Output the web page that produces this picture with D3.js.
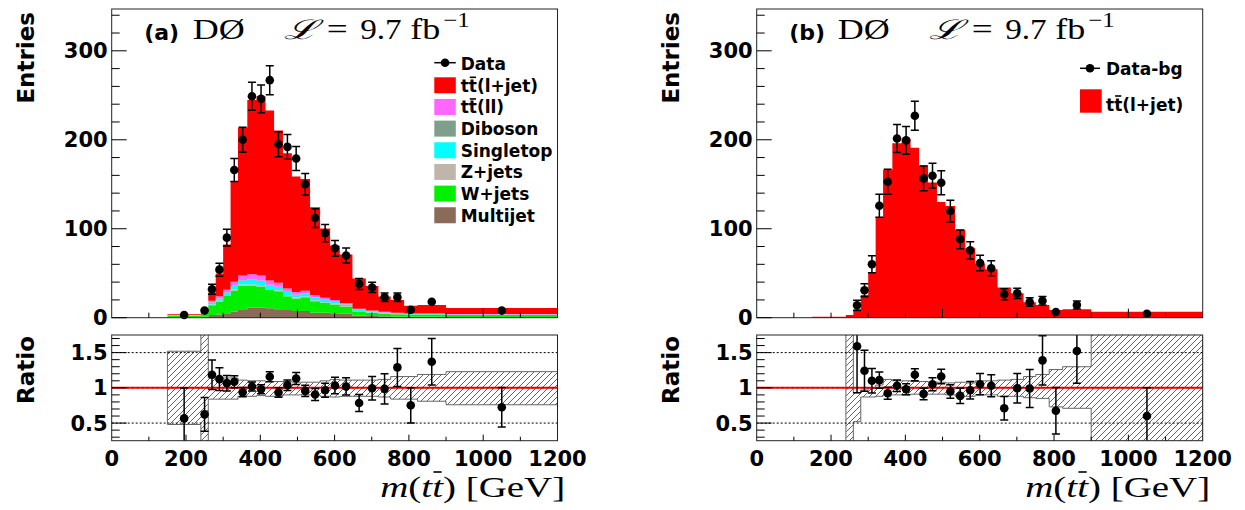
<!DOCTYPE html>
<html><head><meta charset="utf-8">
<script src="https://cdn.jsdelivr.net/npm/d3@7"></script>
<style>body{margin:0;background:#fff} svg{display:block}</style>
</head><body>
<svg id="c" width="1245" height="510"></svg>
<script>
// ---------------- DATA ----------------
const binEdges = [150,240,260,280,300,320,340,365,390,414,437,461,485,508,534,561,588,614,648,684,718,751,787,823,900,1200];
const dataCounts = [3,8,32,54,90,166,200,249,246,267,195,192,179,150,112,95,78,70,38,34,23,23,9,18,8];
const dataErr    = [0,0,5.7,7.3,9.5,12.9,14.1,15.8,15.7,16.3,14,13.9,13.4,12.2,10.6,9.7,8.8,8.4,6.2,5.8,4.8,4.8,0,0,0];
const multijet   = [0.5,1.0,3.0,3.7,5.0,6.7,9.4,11.2,11.2,10.5,8.6,8.6,7.5,7.5,5.6,5.6,4.9,4.5,2.5,2.0,1.5,1.2,1.0,1.0,0.8];
const wjets      = [2.0,4.5,11.0,14.5,19.5,24.0,26.5,25.0,24.0,20.5,21.0,15.5,14.0,15.5,13.0,11.0,10.0,8.0,4.5,3.5,3.0,2.8,2.5,2.5,2.2];
const zjets      = [0.2,0.4,0.7,0.9,1.1,1.3,1.5,1.5,1.5,1.4,1.3,1.2,1.1,1.0,0.9,0.8,0.7,0.6,0.5,0.4,0.3,0.3,0.2,0.2,0.2];
const singletop  = [0.2,0.8,2.0,2.2,2.5,3.5,4.5,5.0,4.5,4.0,3.5,3.5,3.0,3.0,2.8,2.5,2.0,1.7,1.2,1.0,0.8,0.6,0.5,0.5,0.4];
const diboson    = [0.1,0.2,0.3,0.4,0.4,0.5,0.6,0.6,0.6,0.5,0.5,0.5,0.4,0.4,0.4,0.3,0.3,0.3,0.2,0.2,0.2,0.1,0.1,0.1,0.1];
const ttll       = [0.2,0.6,2.0,2.5,2.8,4.5,5.0,5.5,5.5,5.0,4.5,3.5,2.8,3.0,2.5,2.2,1.9,1.5,1.2,1.0,0.8,0.6,0.5,0.5,0.4];
const ttlj       = [1.0,3.0,9.4,25.5,51,113,166,196,201.5,191,171,152,130,125.5,99,78,61,54.4,34,27.4,17.3,14.3,8.6,9.4,6.8];

const dataBg     = [null,null,13.9,30.8,60,125.8,152.8,201.5,199.3,227,156.6,159.6,151.7,119.9,88.1,75.7,61.5,55.5,26.3,27.3,17.6,19.1,6.4,14.3,4.5];
const dataBgErr  = [null,null,5.7,7.3,9.5,12.9,14.1,15.8,15.7,16.3,14,13.9,13.4,12.2,10.6,9.7,8.8,8.4,6.2,5.8,4.8,4.8,0,4.5,0];

const ratioA     = [0.567,0.624,1.186,1.124,1.067,1.086,0.938,1.019,0.98,1.157,0.933,1.038,1.133,0.957,0.905,0.967,1.033,1.02,0.786,0.995,0.986,1.29,0.752,1.37,0.724];
const ratioErrA  = [0.43,0.24,0.21,0.16,0.11,0.085,0.066,0.065,0.063,0.07,0.067,0.075,0.085,0.08,0.086,0.1,0.117,0.122,0.12,0.167,0.214,0.27,0.25,0.33,0.28];
const bandLowA   = [0.48,0.0,0.84,0.84,0.84,0.84,0.88,0.88,0.89,0.88,0.88,0.9,0.9,0.9,0.9,0.88,0.87,0.88,0.88,0.88,0.87,0.84,0.84,0.81,0.76];
const bandHighA  = [1.52,2.0,1.14,1.14,1.14,1.14,1.11,1.1,1.1,1.09,1.09,1.09,1.08,1.08,1.08,1.1,1.12,1.11,1.11,1.11,1.12,1.16,1.16,1.19,1.23];

const ratioB     = [null,null,1.59,1.243,1.1,1.11,0.924,1.029,0.98,1.186,0.914,1.052,1.162,0.948,0.886,0.967,1.052,1.029,0.71,0.995,0.99,1.39,0.676,1.524,0.6];
const ratioErrB  = [null,null,0.66,0.29,0.174,0.114,0.085,0.081,0.077,0.085,0.082,0.092,0.103,0.096,0.107,0.124,0.15,0.156,0.167,0.21,0.27,0.35,0.33,0.46,0.4];
const bandLowB   = [null,0.0,0.52,0.87,0.87,0.88,0.9,0.9,0.9,0.91,0.91,0.91,0.91,0.9,0.88,0.88,0.9,0.9,0.88,0.88,0.86,0.85,0.73,0.71,0.0];
const bandHighB  = [null,2.0,0.93,0.97,0.99,1.04,1.12,1.1,1.1,1.09,1.09,1.08,1.08,1.07,1.08,1.07,1.1,1.1,1.11,1.12,1.16,1.19,1.26,1.3,2.0];

const xTickLabels = ["0","200","400","600","800","1000","1200"];
const yTickLabels = ["0","100","200","300"];
const ratioTickLabels = ["0.5","1","1.5"];
const legendA = ["Data","tt(l+jet)","tt(ll)","Diboson","Singletop","Z+jets","W+jets","Multijet"];
const legendB = ["Data-bg","tt(l+jet)"];

// ---------------- DRAW ----------------
const svg = d3.select('#c');
const SANS = "'DejaVu Sans', 'Liberation Sans', sans-serif";
const SERIF = "'Liberation Serif', 'DejaVu Serif', serif";
const keys = ['multijet','wjets','zjets','singletop','diboson','ttll','ttlj'];
const colors = {multijet:'#8b6a58', wjets:'#00f000', zjets:'#c0b5aa', singletop:'#00ffff', diboson:'#7f9f8c', ttll:'#ff66ff', ttlj:'#ff0000'};
const src = {multijet, wjets, zjets, singletop, diboson, ttll, ttlj};
const nb = binEdges.length - 1;
const centers = d3.range(nb).map(i => (binEdges[i] + binEdges[i+1]) / 2);

const defs = svg.append('defs');
const pat = defs.append('pattern').attr('id','hatch').attr('patternUnits','userSpaceOnUse').attr('width',6).attr('height',6);
pat.append('path').attr('d','M-1,1 l2,-2 M0,6 l6,-6 M5,7 l2,-2').attr('stroke','#555').attr('stroke-width',0.9);

const TOP = {y0: 9, y1: 317.7};
const RAT = {y0: 335, y1: 440.7};

function overlineChar(textSel, idx, dy) {
  const node = textSel.node();
  const ext = node.getExtentOfChar(idx);
  const g = d3.select(node.parentNode);
  g.append('line').attr('x1', ext.x + ext.width*0.12).attr('x2', ext.x + ext.width*0.88)
    .attr('y1', ext.y + dy).attr('y2', ext.y + dy)
    .attr('stroke', '#000').attr('stroke-width', 1.6);
}

function errBars(g, xs, ys, es, xS, yS, capW) {
  xs.forEach((xv, i) => {
    if (ys[i] == null || !es[i]) return;
    const cx = xS(xv), yh = yS(ys[i] + es[i]), yl = yS(ys[i] - es[i]);
    g.append('path').attr('d', `M${cx},${yh}V${yl}M${cx-capW/2},${yh}H${cx+capW/2}M${cx-capW/2},${yl}H${cx+capW/2}`)
      .attr('stroke','#000').attr('stroke-width',1.5).attr('fill','none');
  });
}
function markers(g, xs, ys, xS, yS) {
  xs.forEach((xv, i) => {
    if (ys[i] == null) return;
    g.append('circle').attr('cx', xS(xv)).attr('cy', yS(ys[i])).attr('r', 4.3).attr('fill','#000');
  });
}

function panel(L, R, which) {
  const g = svg.append('g');
  const x = d3.scaleLinear().domain([0,1200]).range([L, R]);
  const y = d3.scaleLinear().domain([0,347]).range([TOP.y1, TOP.y0]);
  const yr = d3.scaleLinear().domain([0.25,1.75]).range([RAT.y1, RAT.y0]);

  const stepArea = d3.area().curve(d3.curveStepAfter).x(d => x(d.x)).y0(d => d.a).y1(d => d.b).defined(d => d.ok);
  const toPts = (lo, hi, ys) => {
    const pts = d3.range(nb).map(i => ({x: binEdges[i], a: ys(lo[i]), b: ys(hi[i]), ok: lo[i] != null}));
    pts.push({x: binEdges[nb], a: pts[nb-1].a, b: pts[nb-1].b, ok: pts[nb-1].ok});
    return pts;
  };

  // ---- top histogram ----
  if (which === 'a') {
    const rows = d3.range(nb).map(i => { const o = {}; keys.forEach(k => o[k] = src[k][i]); return o; });
    const series = d3.stack().keys(keys)(rows);
    series.forEach(s => {
      const lo = s.map(d => d[0]), hi = s.map(d => d[1]);
      g.append('path').attr('d', stepArea(toPts(lo, hi, y))).attr('fill', colors[s.key]);
    });
    errBars(g, centers, dataCounts, dataErr, x, y, 8);
    markers(g, centers, dataCounts, x, y);
  } else {
    const zeros = ttlj.map(() => 0);
    g.append('path').attr('d', stepArea(toPts(zeros, ttlj, y))).attr('fill', colors.ttlj);
    errBars(g, centers, dataBg, dataBgErr, x, y, 8);
    markers(g, centers, dataBg, x, y);
  }
  // frame
  g.append('rect').attr('x', L).attr('y', TOP.y0).attr('width', R-L).attr('height', TOP.y1-TOP.y0)
    .attr('fill','none').attr('stroke','#222').attr('stroke-width',1);
  // y ticks
  d3.range(0, 347, 20).forEach(v => {
    const len = v % 100 === 0 ? 15 : 8;
    g.append('line').attr('x1', L).attr('x2', L+len).attr('y1', y(v)).attr('y2', y(v)).attr('stroke','#000').attr('stroke-width',1);
  });
  yTickLabels.forEach(t => {
    g.append('text').attr('x', L-4).attr('y', y(+t)+7.6).attr('text-anchor','end')
      .attr('font-family', SANS).attr('font-weight','bold').attr('font-size',21).text(t);
  });
  // x ticks top
  d3.range(100, 1200, 100).forEach(v => {
    const len = v % 500 === 0 ? 9 : 5;
    g.append('line').attr('x1', x(v)).attr('x2', x(v)).attr('y1', TOP.y1).attr('y2', TOP.y1-len).attr('stroke','#000').attr('stroke-width',1);
  });
  // Entries label
  g.append('text').attr('transform', `translate(${L-78},${TOP.y0+3}) rotate(-90)`).attr('text-anchor','end')
    .attr('font-family', SANS).attr('font-weight','bold').attr('font-size',23).text('Entries');

  // title
  g.append('text').attr('x', L + 32.5).attr('y', 39.5).attr('font-family', SANS).attr('font-weight','bold').attr('font-size',22).text(which === 'a' ? '(a)' : '(b)');
  g.append('text').attr('x', L+81).attr('y', 39).attr('font-family', SERIF).attr('font-size',30)
    .attr('textLength',52).attr('lengthAdjust','spacingAndGlyphs').text('DØ');
  g.append('text').attr('x', L+172).attr('y', 39).attr('font-family', "'DejaVu Serif', serif").attr('font-style','italic').attr('font-size',27)
    .attr('textLength',33).attr('lengthAdjust','spacingAndGlyphs').text('ℒ');
  g.append('text').attr('x', L+215).attr('y', 39).attr('font-family', SERIF).attr('font-size',30)
    .attr('textLength',21).attr('lengthAdjust','spacingAndGlyphs').text('=');
  g.append('text').attr('x', L+248.5).attr('y', 39).attr('font-family', SERIF).attr('font-size',30)
    .attr('textLength',41.5).attr('lengthAdjust','spacingAndGlyphs').text('9.7');
  g.append('text').attr('x', L+298.5).attr('y', 39).attr('font-family', SERIF).attr('font-size',30)
    .attr('textLength',30).attr('lengthAdjust','spacingAndGlyphs').text('fb');
  g.append('text').attr('x', L+331.5).attr('y', 27).attr('font-family', SERIF).attr('font-size',21)
    .attr('textLength',26.5).attr('lengthAdjust','spacingAndGlyphs').text('−1');

  // legend
  if (which === 'a') {
    const lx = L + 322.6, tx2 = L + 349;
    g.append('line').attr('x1', lx).attr('x2', lx+21.5).attr('y1', 62.7).attr('y2', 62.7).attr('stroke','#000').attr('stroke-width',1.5);
    g.append('circle').attr('cx', lx+10.75).attr('cy', 62.7).attr('r', 4.3);
    g.append('text').attr('x', tx2).attr('y', 69.5).attr('font-family', SANS).attr('font-weight','bold').attr('font-size',17).text(legendA[0]);
    const order = ['ttlj','ttll','diboson','singletop','zjets','wjets','multijet'];
    order.forEach((k, i) => {
      const by = 77.3 + i * 21.66;
      g.append('rect').attr('x', lx).attr('y', by).attr('width', 21.5).attr('height', 16).attr('fill', colors[k]);
      const t = g.append('text').attr('x', tx2).attr('y', by + 14.5).attr('font-family', SANS).attr('font-weight','bold').attr('font-size',17).text(legendA[i+1]);
      if (i < 2) overlineChar(t, 1, 1.5);
    });
  } else {
    const lx = L + 323.3, tx2 = L + 349.3;
    g.append('line').attr('x1', lx).attr('x2', lx+20).attr('y1', 68.3).attr('y2', 68.3).attr('stroke','#000').attr('stroke-width',1.5);
    g.append('circle').attr('cx', lx+10).attr('cy', 68.3).attr('r', 4.3);
    g.append('text').attr('x', tx2).attr('y', 74.5).attr('font-family', SANS).attr('font-weight','bold').attr('font-size',17).text(legendB[0]);
    g.append('rect').attr('x', lx).attr('y', 89.3).attr('width', 21.7).attr('height', 23.4).attr('fill', colors.ttlj);
    const t = g.append('text').attr('x', tx2).attr('y', 110.5).attr('font-family', SANS).attr('font-weight','bold').attr('font-size',17).text(legendB[1]);
    overlineChar(t, 1, 1.5);
  }

  // ---- ratio panel ----
  const cid = 'clip' + which;
  defs.append('clipPath').attr('id', cid).append('rect').attr('x', L).attr('y', RAT.y0).attr('width', R-L).attr('height', RAT.y1-RAT.y0);
  const gr = g.append('g').attr('clip-path', `url(#${cid})`);
  const lo = which === 'a' ? bandLowA : bandLowB;
  const hi = which === 'a' ? bandHighA : bandHighB;
  gr.append('path').attr('d', stepArea(toPts(lo, hi, yr))).attr('fill','url(#hatch)').attr('stroke','#666').attr('stroke-width',1);
  [0.5, 1.5].forEach(v => {
    gr.append('line').attr('x1', L).attr('x2', R).attr('y1', yr(v)).attr('y2', yr(v)).attr('stroke','#000').attr('stroke-width',1).attr('stroke-dasharray','2,2');
  });
  gr.append('line').attr('x1', L).attr('x2', R).attr('y1', yr(1)).attr('y2', yr(1)).attr('stroke','#ff0000').attr('stroke-width',2);
  gr.append('line').attr('x1', L).attr('x2', R).attr('y1', yr(1)).attr('y2', yr(1)).attr('stroke','#600').attr('stroke-width',0.8).attr('stroke-dasharray','2,3');
  const rv = which === 'a' ? ratioA : ratioB;
  const re = which === 'a' ? ratioErrA : ratioErrB;
  errBars(gr, centers, rv, re, x, yr, 8);
  markers(gr, centers, rv, x, yr);
  g.append('rect').attr('x', L).attr('y', RAT.y0).attr('width', R-L).attr('height', RAT.y1-RAT.y0)
    .attr('fill','none').attr('stroke','#222').attr('stroke-width',1);
  d3.range(0.3, 1.75, 0.1).forEach(v => {
    const maj = Math.abs(v*2 - Math.round(v*2)) < 1e-6;
    g.append('line').attr('x1', L).attr('x2', L + (maj ? 15 : 8)).attr('y1', yr(v)).attr('y2', yr(v)).attr('stroke','#000');
  });
  ratioTickLabels.forEach(t => {
    g.append('text').attr('x', L-4).attr('y', yr(+t)+7.6).attr('text-anchor','end')
      .attr('font-family', SANS).attr('font-weight','bold').attr('font-size',21).text(t);
  });
  d3.range(100, 1200, 100).forEach(v => {
    const len = v % 200 === 0 ? 6 : 4;
    g.append('line').attr('x1', x(v)).attr('x2', x(v)).attr('y1', RAT.y1).attr('y2', RAT.y1-len).attr('stroke','#000');
  });
  xTickLabels.forEach(t => {
    g.append('text').attr('x', x(+t)).attr('y', 465.5).attr('text-anchor','middle')
      .attr('font-family', SANS).attr('font-weight','bold').attr('font-size',21).text(t);
  });
  g.append('text').attr('transform', `translate(${L-78},${RAT.y0+1}) rotate(-90)`).attr('text-anchor','end')
    .attr('font-family', SANS).attr('font-weight','bold').attr('font-size',23).text('Ratio');
  // x title
  const xt = g.append('text').attr('x', L+268.5).attr('y', 497).attr('font-family', SERIF).attr('font-size',29)
    .attr('textLength',185).attr('lengthAdjust','spacingAndGlyphs');
  xt.append('tspan').attr('font-style','italic').text('m');
  xt.append('tspan').text('(');
  xt.append('tspan').attr('font-style','italic').text('tt');
  xt.append('tspan').text(')  [GeV]');
  overlineChar(xt, 3, 1);
}

panel(111.7, 557.5, 'a');
panel(756.7, 1202.7, 'b');
</script>
</body></html>
